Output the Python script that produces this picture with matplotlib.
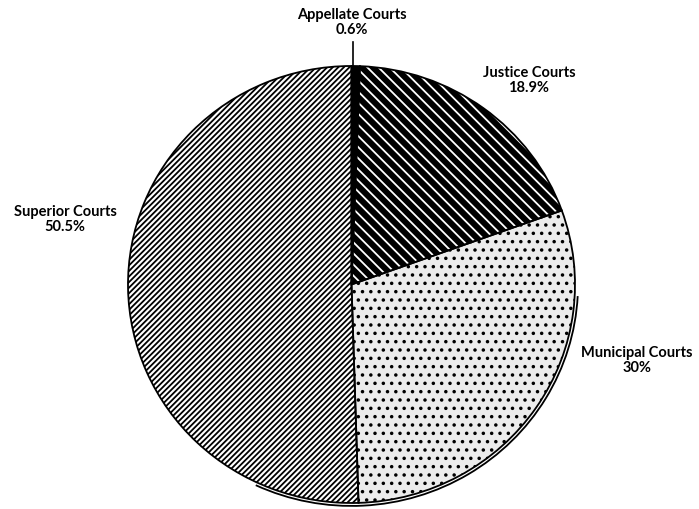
import matplotlib
matplotlib.use("Agg")
import matplotlib.pyplot as plt
from matplotlib.patches import Arc

# -----------------------------
# Data
# -----------------------------
courts = ["Appellate Courts", "Justice Courts", "Municipal Courts", "Superior Courts"]
shares = [0.6, 18.9, 30.0, 50.5]
share_labels = ["0.6%", "18.9%", "30%", "50.5%"]

# -----------------------------
# Style
# -----------------------------
plt.rcParams["hatch.linewidth"] = 1.3
W, H = 699, 509
# scan is slightly squashed vertically
SY = 218.5 / 223.5
CX, CY = 351.5, 284.5          # pie centre, pixels from top-left
R = 223.5

fig = plt.figure(figsize=(W / 100, H / 100), dpi=100)
ax = fig.add_axes([0, 0, 1, 1])

center = (CX, (H - CY) / SY)

faces = ["black", "black", "#ececec", "white"]
hatch_cols = ["black", "white", "black", "black"]
hatches = [None, "\\\\\\", "..", "//////"]

wedges, _ = ax.pie(shares, center=center, radius=R, startangle=90,
                   counterclock=False, frame=True)
for w, fc, hc, h in zip(wedges, faces, hatch_cols, hatches):
    w.set_facecolor(fc)
    w.set_edgecolor(hc)
    w.set_linewidth(0)
    if h:
        w.set_hatch(h)

# outlines on top
outline, _ = ax.pie(shares, center=center, radius=R, startangle=90,
                    counterclock=False, frame=True,
                    wedgeprops=dict(fill=False, edgecolor="black", linewidth=1.3))

# double rim at the lower right (shadow edge of the original print)
ax.add_patch(Arc(center, 2 * (R + 3), 2 * (R + 3), theta1=-115, theta2=-3,
                 color="black", linewidth=1.3))

# leader for the tiny appellate slice
ax.plot([353, 353], [(H - 42) / SY, (H - 66) / SY], color="black", linewidth=1.2)

ax.set_aspect("auto")
ax.set_xlim(0, W)
ax.set_ylim(0, H / SY)
ax.axis("off")

# -----------------------------
# Labels
# -----------------------------
label_pos = [(352, 15), (529, 73), (637, 353), (65, 212)]
for name, pct, (x, y) in zip(courts, share_labels, label_pos):
    fig.text(x / W, 1 - y / H, name, ha="center", va="center",
             fontsize=10.5, fontfamily="Lato", fontweight="bold")
    fig.text(x / W, 1 - (y + 15) / H, pct, ha="center", va="center",
             fontsize=10.5, fontfamily="Lato", fontweight="bold")

fig.savefig("out.png", dpi=100)
